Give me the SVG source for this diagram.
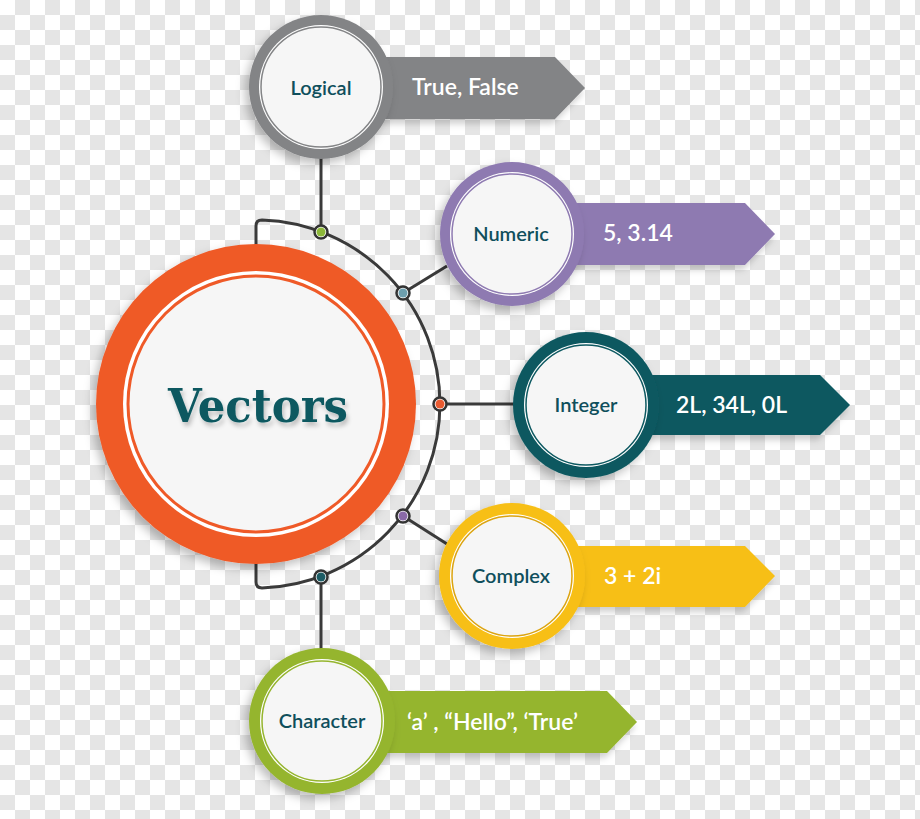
<svg xmlns="http://www.w3.org/2000/svg" width="920" height="819" viewBox="0 0 920 819">
<defs>
<pattern id="checker" width="30" height="30" patternUnits="userSpaceOnUse">
<rect width="30" height="30" fill="#ffffff"/>
<rect x="15" y="0" width="15" height="15" fill="#e5e5e5"/>
<rect x="0" y="15" width="15" height="15" fill="#e5e5e5"/>
</pattern>
<filter id="sh" x="-30%" y="-30%" width="160%" height="160%">
<feDropShadow dx="-4" dy="5" stdDeviation="5" flood-color="#000" flood-opacity="0.25"/>
</filter>
<filter id="bsh" x="-10%" y="-30%" width="120%" height="170%">
<feDropShadow dx="-2" dy="5" stdDeviation="3" flood-color="#000" flood-opacity="0.18"/>
</filter>
<filter id="tsh" x="-10%" y="-30%" width="120%" height="170%">
<feDropShadow dx="2" dy="4" stdDeviation="2" flood-color="#000" flood-opacity="0.22"/>
</filter>
<style>
.lbl{font-family:Lato,"Liberation Sans",sans-serif;font-weight:600;font-size:20px;fill:#0f4f5c;text-anchor:middle}
.val{font-family:Lato,"Liberation Sans",sans-serif;font-weight:600;font-size:23px;fill:#ffffff}
.wire{fill:none;stroke:#3a3a3a;stroke-width:3}
.dot{stroke:#333;stroke-width:2.5}
.inner{fill:#f6f6f6;stroke-width:1.5}
</style>
</defs>
<rect width="920" height="819" fill="url(#checker)"/>

<g id="connectors">
<path class="wire" d="M256,246 V226 Q256,220.1 262,220.1 A184,184 0 0 1 262,587.9 Q256,587.9 256,582 V562"/>
<line class="wire" x1="321" y1="232" x2="321" y2="155"/>
<line class="wire" x1="403" y1="293" x2="447" y2="266"/>
<line class="wire" x1="440" y1="404" x2="515" y2="404"/>
<line class="wire" x1="403" y1="516" x2="447" y2="544"/>
<line class="wire" x1="321" y1="577" x2="321" y2="652"/>
<g>
<circle cx="321" cy="232" r="6.5" fill="#ffffff" class="dot"/><circle cx="321" cy="232" r="4.5" fill="#8db83a"/>
<circle cx="403" cy="293" r="6.5" fill="#ffffff" class="dot"/><circle cx="403" cy="293" r="4.5" fill="#6d9fae"/>
<circle cx="440" cy="404" r="6.5" fill="#ffffff" class="dot"/><circle cx="440" cy="404" r="4.5" fill="#e85a30"/>
<circle cx="403" cy="516" r="6.5" fill="#ffffff" class="dot"/><circle cx="403" cy="516" r="4.5" fill="#8a6aa8"/>
<circle cx="321" cy="577" r="6.5" fill="#ffffff" class="dot"/><circle cx="321" cy="577" r="4.5" fill="#1c5c65"/>
</g>
</g>

<g id="vectors">
<circle cx="256" cy="404" r="160" fill="#ef5a28" filter="url(#sh)"/>
<circle cx="256" cy="404" r="133" fill="#ffffff"/>
<circle cx="256" cy="404" r="128" fill="#f6f6f6" stroke="#ef5a28" stroke-width="3"/>
<text x="258" y="422" font-family="'DejaVu Serif','Liberation Serif',serif" font-weight="bold" font-size="46" fill="#0d5961" textLength="180" lengthAdjust="spacingAndGlyphs" text-anchor="middle" filter="url(#tsh)">Vectors</text>
</g>

<g id="logical">
<path d="M330,57 H555 L585,88 L555,119 H330 Z" fill="#838486" filter="url(#bsh)"/>
<circle cx="321" cy="87" r="72" fill="#838486" filter="url(#sh)"/>
<circle cx="321" cy="87" r="62" fill="#ffffff"/>
<circle cx="321" cy="87" r="60" class="inner" stroke="#838486"/>
<text class="lbl" x="321" y="95">Logical</text>
<text class="val" x="412" y="95">True, False</text>
</g>

<g id="numeric">
<path d="M520,203 H745 L775,234 L745,265 H520 Z" fill="#8e7ab1" filter="url(#bsh)"/>
<circle cx="512" cy="234" r="72" fill="#8e7ab1" filter="url(#sh)"/>
<circle cx="512" cy="234" r="62" fill="#ffffff"/>
<circle cx="512" cy="234" r="60" class="inner" stroke="#8e7ab1"/>
<text class="lbl" x="511" y="241">Numeric</text>
<text class="val" x="603" y="241">5, 3.14</text>
</g>

<g id="integer">
<path d="M595,375 H820 L850,405 L820,435 H595 Z" fill="#0d5961" filter="url(#bsh)"/>
<circle cx="586" cy="405" r="73" fill="#0d5961" filter="url(#sh)"/>
<circle cx="586" cy="405" r="62" fill="#ffffff"/>
<circle cx="586" cy="405" r="60" class="inner" stroke="#0d5961"/>
<text class="lbl" x="586" y="412">Integer</text>
<text class="val" x="676" y="413">2L, 34L, 0L</text>
</g>

<g id="complex">
<path d="M520,546 H745 L775,576 L745,607 H520 Z" fill="#f7bf18" filter="url(#bsh)"/>
<circle cx="512" cy="576" r="73" fill="#f7bf18" filter="url(#sh)"/>
<circle cx="512" cy="576" r="62" fill="#ffffff"/>
<circle cx="512" cy="576" r="60" class="inner" stroke="#dca410"/>
<text class="lbl" x="511" y="583">Complex</text>
<text class="val" x="604" y="584">3 + 2i</text>
</g>

<g id="character">
<path d="M330,691 H607 L637,722 L607,753 H330 Z" fill="#95b52e" filter="url(#bsh)"/>
<circle cx="322" cy="721" r="73" fill="#95b52e" filter="url(#sh)"/>
<circle cx="322" cy="721" r="62" fill="#ffffff"/>
<circle cx="322" cy="721" r="60" class="inner" stroke="#95b52e"/>
<text class="lbl" x="322" y="728">Character</text>
<text class="val" x="407" y="730">‘a’ , “Hello”, ‘True’</text>
</g>
</svg>
